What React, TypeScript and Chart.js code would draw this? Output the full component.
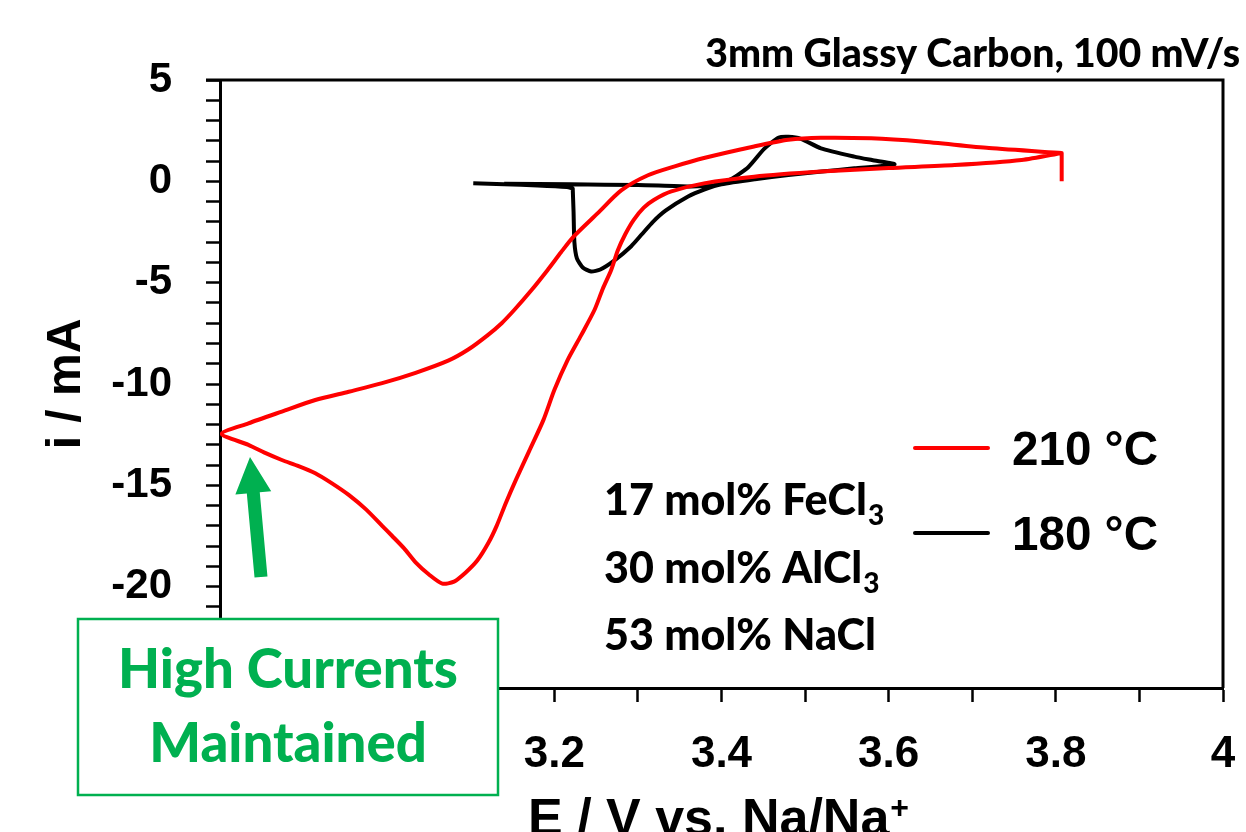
import React, { useEffect, useRef } from "react";
import { Chart, registerables } from "chart.js";

Chart.register(...registerables);

// ---- data (turning points repeated so the curve keeps its sharp corner) ----
const red210E = [3.807, 3.807, 3.807, 3.759, 3.679, 3.600, 3.519, 3.439, 3.379, 3.340, 3.319, 3.307, 3.295, 3.285, 3.276, 3.268, 3.258, 3.248, 3.232, 3.216, 3.200, 3.187, 3.170, 3.154, 3.142, 3.131, 3.121, 3.108, 3.094, 3.080, 3.066, 3.050, 3.034, 3.020, 3.006, 2.994, 2.975, 2.954, 2.934, 2.914, 2.894, 2.874, 2.854, 2.834, 2.802, 2.834, 2.874, 2.914, 2.954, 2.994, 3.034, 3.073, 3.097, 3.120, 3.137, 3.152, 3.172, 3.192, 3.208, 3.223, 3.252, 3.280, 3.312, 3.345, 3.379, 3.439, 3.480, 3.519, 3.579, 3.639, 3.720, 3.807];
const red210I = [0.0, 1.40, 1.40, 1.05, 0.80, 0.66, 0.48, 0.23, -0.10, -0.50, -0.92, -1.30, -1.90, -2.60, -3.40, -4.37, -5.30, -6.35, -7.60, -8.81, -10.30, -11.77, -13.30, -14.73, -15.87, -17.00, -17.85, -18.70, -19.30, -19.75, -19.85, -19.40, -18.80, -18.10, -17.50, -17.00, -16.20, -15.47, -14.90, -14.40, -14.05, -13.75, -13.40, -13.00, -12.46, -11.94, -11.36, -10.79, -10.38, -9.96, -9.45, -8.85, -8.30, -7.60, -7.00, -6.35, -5.40, -4.37, -3.50, -2.73, -1.57, -0.45, 0.30, 0.75, 1.15, 1.72, 2.05, 2.15, 2.12, 1.96, 1.64, 1.40];

const black180E = [3.103, 3.140, 3.180, 3.215, 3.222, 3.222, 3.223, 3.224, 3.227, 3.234, 3.244, 3.255, 3.272, 3.292, 3.305, 3.318, 3.333, 3.360, 3.380, 3.400, 3.440, 3.480, 3.520, 3.559, 3.607, 3.580, 3.559, 3.519, 3.495, 3.480, 3.468, 3.451, 3.432, 3.411, 3.390, 3.360, 3.300, 3.220, 3.140];
const black180I = [-0.10, -0.15, -0.20, -0.28, -0.35, -0.35, -1.50, -3.00, -3.80, -4.25, -4.45, -4.35, -3.90, -3.20, -2.60, -2.00, -1.45, -0.75, -0.40, -0.15, 0.10, 0.31, 0.48, 0.64, 0.84, 1.05, 1.22, 1.63, 2.10, 2.20, 2.15, 1.60, 0.70, 0.10, -0.20, -0.25, -0.18, -0.15, -0.12];

const seriesLabels = ["210 °C", "180 °C"];
const xMajorTicks = [2.8, 3.0, 3.2, 3.4, 3.6, 3.8, 4.0];
const xTickLabels = ["2.8", "3", "3.2", "3.4", "3.6", "3.8", "4"];
const yMajorTicks = [5, 0, -5, -10, -15, -20, -25];
const yTickLabels = ["5", "0", "-5", "-10", "-15", "-20", "-25"];
const compositionLines = [
  { main: "17 mol% FeCl", sub: "3" },
  { main: "30 mol% AlCl", sub: "3" },
  { main: "53 mol% NaCl", sub: "" },
];
const titleText = "3mm Glassy Carbon, 100 mV/s";
const calloutLines = ["High Currents", "Maintained"];

const GREEN = "#00B050";
const CAL = "Lato, 'Open Sans', sans-serif";
const CALW = "900";
const ARIAL = "'Liberation Sans', Arial, sans-serif";

function toPoints(xs: number[], ys: number[]) {
  return xs.map((x, i) => ({ x, y: ys[i] }));
}

function fitSize(ctx: CanvasRenderingContext2D, text: string, family: string, target: number, weight = "bold") {
  ctx.font = `${weight} 100px ${family}`;
  const w = ctx.measureText(text).width;
  return (100 * target) / w;
}

const decorPlugin = {
  id: "decor",
  afterDraw(chart: any) {
    const ctx: CanvasRenderingContext2D = chart.ctx;
    const a = chart.chartArea;
    ctx.save();

    // frame top & right
    ctx.strokeStyle = "#000";
    ctx.lineWidth = 3;
    ctx.beginPath();
    ctx.moveTo(a.left - 14, a.top);
    ctx.lineTo(a.right, a.top);
    ctx.lineTo(a.right, a.bottom);
    ctx.stroke();

    // title
    ctx.fillStyle = "#000";
    const ts = fitSize(ctx, titleText, CAL, 535, CALW);
    ctx.font = `${CALW} ${ts}px ${CAL}`;
    ctx.textAlign = "right";
    ctx.textBaseline = "alphabetic";
    ctx.fillText(titleText, 1240, 67);

    // y title
    ctx.save();
    ctx.translate(80, 384);
    ctx.rotate(-Math.PI / 2);
    ctx.font = `bold 48px ${ARIAL}`;
    ctx.textAlign = "center";
    ctx.fillText("i / mA", 0, 0);
    ctx.restore();

    // x title with superscript
    {
      const mainT = "E / V vs. Na/Na";
      ctx.font = `bold 52px ${ARIAL}`;
      const w1 = ctx.measureText(mainT).width;
      ctx.font = `bold 32px ${ARIAL}`;
      const w2 = ctx.measureText("+").width;
      const x0 = 718 - (w1 + w2) / 2;
      ctx.textAlign = "left";
      ctx.font = `bold 52px ${ARIAL}`;
      ctx.fillText(mainT, x0, 835);
      ctx.font = `bold 32px ${ARIAL}`;
      ctx.fillText("+", x0 + w1 + 1, 818);
    }

    // legend
    const legendColors = ["#FF0000", "#000000"];
    const legendY = [448, 533];
    const legendBase = [465, 550];
    for (let k = 0; k < 2; k++) {
      ctx.strokeStyle = legendColors[k];
      ctx.lineWidth = 4;
      ctx.lineCap = "round";
      ctx.beginPath();
      ctx.moveTo(915, legendY[k]);
      ctx.lineTo(988, legendY[k]);
      ctx.stroke();
      ctx.fillStyle = "#000";
      const fs = fitSize(ctx, seriesLabels[k], ARIAL, 146);
      ctx.font = `bold ${fs}px ${ARIAL}`;
      ctx.textAlign = "left";
      ctx.fillText(seriesLabels[k], 1012, legendBase[k]);
    }

    // composition text
    {
      const size = fitSize(ctx, "53 mol% NaCl", CAL, 272, CALW);
      const bases = [515, 583, 650];
      compositionLines.forEach((ln, k) => {
        ctx.font = `${CALW} ${size}px ${CAL}`;
        ctx.textAlign = "left";
        ctx.fillStyle = "#000";
        ctx.fillText(ln.main, 604, bases[k]);
        if (ln.sub) {
          const w = ctx.measureText(ln.main).width;
          ctx.font = `${CALW} ${size * 0.65}px ${CAL}`;
          ctx.fillText(ln.sub, 604 + w + 1, bases[k] + 10);
        }
      });
    }

    // green arrow
    {
      const tip = { x: 250, y: 457 };
      const tail = { x: 261, y: 577 };
      const dx = tail.x - tip.x, dy = tail.y - tip.y;
      const len = Math.hypot(dx, dy);
      const ux = dx / len, uy = dy / len;
      const px = -uy, py = ux;
      const headL = 36, headW = 18, shaftW = 6.5;
      const hb = { x: tip.x + ux * headL, y: tip.y + uy * headL };
      ctx.fillStyle = GREEN;
      ctx.beginPath();
      ctx.moveTo(tip.x, tip.y);
      ctx.lineTo(hb.x + px * headW, hb.y + py * headW);
      ctx.lineTo(hb.x + px * shaftW, hb.y + py * shaftW);
      ctx.lineTo(tail.x + px * shaftW, tail.y + py * shaftW);
      ctx.lineTo(tail.x - px * shaftW, tail.y - py * shaftW);
      ctx.lineTo(hb.x - px * shaftW, hb.y - py * shaftW);
      ctx.lineTo(hb.x - px * headW, hb.y - py * headW);
      ctx.closePath();
      ctx.fill();
    }

    // callout box
    ctx.fillStyle = "#fff";
    ctx.fillRect(78, 619, 420, 176);
    ctx.strokeStyle = GREEN;
    ctx.lineWidth = 2.5;
    ctx.strokeRect(78, 619, 420, 176);
    ctx.fillStyle = GREEN;
    ctx.textAlign = "center";
    const cs = fitSize(ctx, calloutLines[0], CAL, 340, CALW);
    ctx.font = `${CALW} ${cs}px ${CAL}`;
    ctx.fillText(calloutLines[0], 288, 688);
    ctx.fillText(calloutLines[1], 288, 762);

    ctx.restore();
  },
};

export default function App() {
  const ref = useRef<HTMLCanvasElement | null>(null);
  useEffect(() => {
    document.body.style.margin = "0";
    document.body.style.overflow = "hidden";
    if (!ref.current) return;
    const near = (v: number, arr: number[]) => arr.findIndex((t) => Math.abs(t - v) < 1e-6);
    const chart = new Chart(ref.current, {
      type: "scatter",
      data: {
        datasets: [
          {
            label: seriesLabels[0],
            data: toPoints(red210E, red210I),
            showLine: true,
            borderColor: "#FF0000",
            backgroundColor: "#FF0000",
            borderWidth: 4,
            pointRadius: 0,
            tension: 0.25,
            borderJoinStyle: "round",
          },
          {
            label: seriesLabels[1],
            data: toPoints(black180E, black180I),
            showLine: true,
            borderColor: "#000000",
            backgroundColor: "#000000",
            borderWidth: 4,
            pointRadius: 0,
            tension: 0.2,
            borderJoinStyle: "round",
          },
        ],
      },
      options: {
        animation: false,
        responsive: false,
        devicePixelRatio: 1,
        layout: { padding: { top: 80, right: 23, left: 0, bottom: 0 } },
        plugins: { legend: { display: false }, tooltip: { enabled: false }, title: { display: false } },
        scales: {
          x: {
            type: "linear",
            min: 2.8,
            max: 4.0,
            afterFit: (s: any) => { s.height = 144; s.paddingLeft = 0; s.paddingRight = 0; },
            ticks: {
              stepSize: 0.1,
              autoSkip: false,
              maxRotation: 0,
              color: "#000",
              padding: 26,
              font: { family: ARIAL, size: 44, weight: "bold" },
              callback: (v: any) => {
                const i = near(Number(v), xMajorTicks);
                return i >= 0 ? xTickLabels[i] : "";
              },
            },
            grid: { drawOnChartArea: false, drawTicks: true, tickLength: 14, tickWidth: 2.5, tickColor: "#000" },
            border: { color: "#000", width: 3 },
          },
          y: {
            type: "linear",
            min: -25,
            max: 5,
            afterFit: (s: any) => { s.width = 220; s.paddingTop = 0; s.paddingBottom = 0; },
            ticks: {
              stepSize: 1,
              autoSkip: false,
              color: "#000",
              padding: 34,
              font: { family: ARIAL, size: 42, weight: "bold" },
              callback: (v: any) => {
                const i = near(Number(v), yMajorTicks);
                return i >= 0 ? yTickLabels[i] : "";
              },
            },
            grid: { drawOnChartArea: false, drawTicks: true, tickLength: 14, tickWidth: 2.5, tickColor: "#000" },
            border: { color: "#000", width: 3 },
          },
        },
      },
      plugins: [decorPlugin],
    } as any);
    return () => chart.destroy();
  }, []);
  return (
    <div style={{ width: 1246, height: 832, background: "#fff", overflow: "hidden" }}>
      <canvas ref={ref} width={1246} height={832} style={{ width: 1246, height: 832, display: "block" }} />
    </div>
  );
}
